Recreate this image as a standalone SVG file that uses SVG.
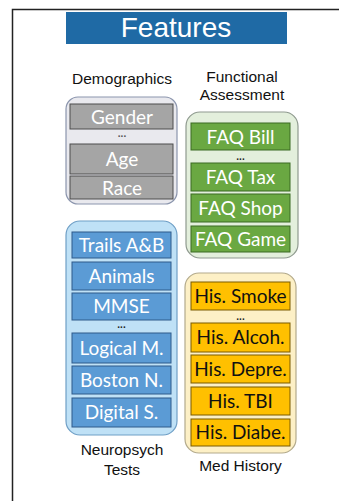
<svg xmlns="http://www.w3.org/2000/svg" width="339" height="501" viewBox="0 0 339 501">
<style>
.lbl{font-family:"Liberation Sans",Arial,sans-serif;font-size:15.5px;fill:#111;text-anchor:middle}
.it{font-family:Lato,"Open Sans",sans-serif;font-size:19px;text-anchor:middle}
.w{fill:#fff}
.k{fill:#111}
.dots{font-family:"Liberation Sans",Arial,sans-serif;font-size:10px;font-weight:bold;text-anchor:middle}
.gr{fill:#a5a5a5;stroke:#4d4d4d;stroke-width:1}
.gn{fill:#6aa842;stroke:#3b6a22;stroke-width:1}
.bl{fill:#5b9bd5;stroke:#2f5a8a;stroke-width:1}
.yl{fill:#ffc000;stroke:#7a5a00;stroke-width:1}
</style>
<rect x="0" y="0" width="339" height="501" fill="#fff"/>
<path d="M12.5,501 V9.5 H339" fill="none" stroke="#222" stroke-width="1.5"/>
<g id="title">
<rect x="66" y="12" width="221" height="32" fill="#1f6aa5"/>
<text x="176" y="36.5" font-family="Liberation Sans,Arial,sans-serif" font-size="28" fill="#fff" text-anchor="middle">Features</text>
</g>
<g id="demographics">
<text class="lbl" x="122" y="84">Demographics</text>
<rect x="66" y="97" width="111" height="107" rx="12" fill="#e9e9ee" stroke="#8b95ad" stroke-width="1.2"/>
<rect class="gr" x="70" y="104" width="103" height="25"/>
<text class="it w" x="122" y="123.5">Gender</text>
<text class="dots" x="122" y="137" fill="#555">...</text>
<rect class="gr" x="70" y="144" width="103" height="30"/>
<text class="it w" x="122" y="166">Age</text>
<rect class="gr" x="70" y="176" width="103" height="23"/>
<text class="it w" x="122" y="194.5">Race</text>
</g>
<g id="functional">
<text class="lbl" x="242" y="82">Functional</text>
<text class="lbl" x="242" y="100">Assessment</text>
<rect x="186" y="112" width="112" height="146" rx="14" fill="#e3efdc" stroke="#8f9a8f" stroke-width="1.2"/>
<rect class="gn" x="191" y="123" width="99" height="27"/>
<text class="it w" x="240.5" y="143.5">FAQ Bill</text>
<text class="dots" x="240.5" y="160" fill="#222">...</text>
<rect class="gn" x="191" y="163" width="99" height="28"/>
<text class="it w" x="240.5" y="184">FAQ Tax</text>
<rect class="gn" x="191" y="194" width="99" height="28"/>
<text class="it w" x="240.5" y="215">FAQ Shop</text>
<rect class="gn" x="191" y="226" width="99" height="26"/>
<text class="it w" x="240.5" y="246">FAQ Game</text>
</g>
<g id="neuropsych">
<rect x="66" y="221" width="111" height="214" rx="14" fill="#bfe1f6" stroke="#6f9fc6" stroke-width="1.2"/>
<rect class="bl" x="72" y="232" width="99" height="26"/>
<text class="it w" x="121.5" y="251.5">Trails A&amp;B</text>
<rect class="bl" x="72" y="262" width="99" height="28"/>
<text class="it w" x="121.5" y="282.5">Animals</text>
<rect class="bl" x="72" y="293" width="99" height="27"/>
<text class="it w" x="121.5" y="313">MMSE</text>
<text class="dots" x="121.5" y="328" fill="#222">...</text>
<rect class="bl" x="72" y="333" width="99" height="30"/>
<text class="it w" x="121.5" y="355">Logical M.</text>
<rect class="bl" x="72" y="366" width="99" height="28"/>
<text class="it w" x="121.5" y="386.5">Boston N.</text>
<rect class="bl" x="72" y="398" width="99" height="29"/>
<text class="it w" x="121.5" y="419">Digital S.</text>
<text class="lbl" x="122" y="455">Neuropsych</text>
<text class="lbl" x="122" y="475">Tests</text>
</g>
<g id="medhistory">
<rect x="185" y="273" width="111" height="180" rx="14" fill="#fdf0c6" stroke="#b3aa8c" stroke-width="1.2"/>
<rect class="yl" x="191" y="282" width="99" height="28"/>
<text class="it k" x="240.5" y="302.5">His. Smoke</text>
<text class="dots" x="240.5" y="320" fill="#222">...</text>
<rect class="yl" x="191" y="323" width="99" height="29"/>
<text class="it k" x="240.5" y="344">His. Alcoh.</text>
<rect class="yl" x="191" y="355" width="99" height="28"/>
<text class="it k" x="240.5" y="375.5">His. Depre.</text>
<rect class="yl" x="191" y="387" width="99" height="28"/>
<text class="it k" x="240.5" y="407.5">His. TBI</text>
<rect class="yl" x="191" y="419" width="99" height="27"/>
<text class="it k" x="240.5" y="439">His. Diabe.</text>
<text class="lbl" x="240.5" y="471">Med History</text>
</g>
<g id="connectors"></g>
</svg>
